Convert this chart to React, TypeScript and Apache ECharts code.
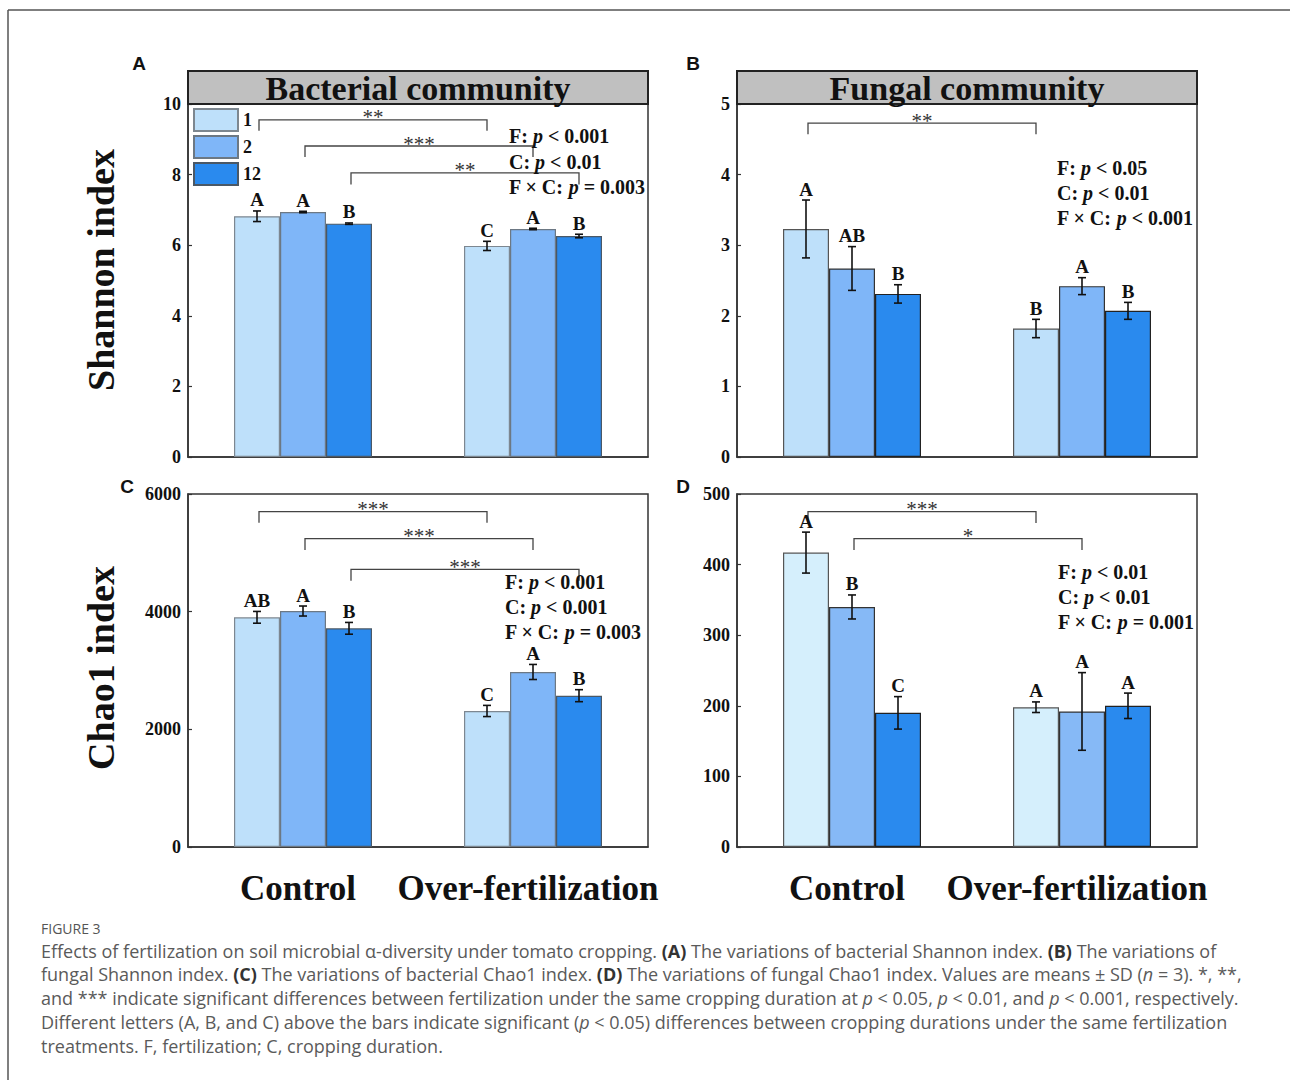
import React, { useEffect, useRef } from 'react';
import * as echarts from 'echarts';

// ---------- data ----------
const categories = ['Control', 'Over-fertilization'];
const durations = ['1', '2', '12'];

// Panel A: bacterial Shannon index
const bacShannonControl = [6.82, 6.94, 6.61];
const bacShannonOver = [5.98, 6.46, 6.26];
const bacShannonSdControl = [0.15, 0.02, 0.02];
const bacShannonSdOver = [0.13, 0.02, 0.05];
const bacShannonLettersControl = ['A', 'A', 'B'];
const bacShannonLettersOver = ['C', 'A', 'B'];
const bacShannonBrackets = [[0, 9.55, 9.24], [1, 8.81, 8.5], [2, 8.05, 7.72]];
const bacShannonStars = ['**', '***', '**'];
const bacShannonStats = [['F', '<', '0.001'], ['C', '<', '0.01'], ['F × C', '=', '0.003']];

// Panel B: fungal Shannon index
const funShannonControl = [3.23, 2.67, 2.31];
const funShannonOver = [1.82, 2.42, 2.07];
const funShannonSdControl = [0.41, 0.31, 0.13];
const funShannonSdOver = [0.13, 0.12, 0.12];
const funShannonLettersControl = ['A', 'AB', 'B'];
const funShannonLettersOver = ['B', 'A', 'B'];
const funShannonBrackets = [[0, 4.73, 4.57]];
const funShannonStars = ['**'];
const funShannonStats = [['F', '<', '0.05'], ['C', '<', '0.01'], ['F × C', '<', '0.001']];

// Panel C: bacterial Chao1 index
const bacChaoControl = [3904, 4011, 3717];
const bacChaoOver = [2312, 2975, 2572];
const bacChaoSdControl = [100, 85, 100];
const bacChaoSdOver = [95, 128, 102];
const bacChaoLettersControl = ['AB', 'A', 'B'];
const bacChaoLettersOver = ['C', 'A', 'B'];
const bacChaoBrackets = [[0, 5700, 5512], [1, 5241, 5048], [2, 4720, 4527]];
const bacChaoStars = ['***', '***', '***'];
const bacChaoStats = [['F', '<', '0.001'], ['C', '<', '0.001'], ['F × C', '=', '0.003']];

// Panel D: fungal Chao1 index
const funChaoControl = [417, 340, 190];
const funChaoOver = [198, 192, 200];
const funChaoSdControl = [29, 17, 23];
const funChaoSdOver = [7.5, 55, 18];
const funChaoLettersControl = ['A', 'B', 'C'];
const funChaoLettersOver = ['A', 'A', 'A'];
const funChaoBrackets = [[0, 475, 459], [1, 436.7, 420.7]];
const funChaoStars = ['***', '*'];
const funChaoStats = [['F', '<', '0.01'], ['C', '<', '0.01'], ['F × C', '=', '0.001']];

const yMax = [10, 5, 6000, 500];
const yInterval = [2, 1, 2000, 100];

// ---------- styles ----------
const SERIF = '"Liberation Serif", "Times New Roman", serif';
const SANS = '"Liberation Sans", Arial, sans-serif';
const CAP = '"Open Sans", "Noto Sans", sans-serif';
const colorsABC = ['#BEE0FA', '#7FB6F8', '#2A8AEE'];
const colorsD = ['#D5EFFC', '#86B9F6', '#2A8AEE'];
const borderABC = ['#7d8790', '#6c7884', '#4a5866'];
const borderD = ['#555', '#333', '#222'];

const grids = [
  { left: 188, top: 104, width: 460, height: 353 },
  { left: 737, top: 104, width: 460, height: 353 },
  { left: 188, top: 494, width: 460, height: 353 },
  { left: 737, top: 494, width: 460, height: 353 },
];

type Panel = {
  control: number[];
  over: number[];
  sdControl: number[];
  sdOver: number[];
  lettersControl: string[];
  lettersOver: string[];
  brackets: number[][];
  stars: string[];
  stats: string[][];
  statsPos: number[];
  colors: string[];
  borders: string[];
};

const panels: Panel[] = [
  {
    control: bacShannonControl, over: bacShannonOver, sdControl: bacShannonSdControl, sdOver: bacShannonSdOver,
    lettersControl: bacShannonLettersControl, lettersOver: bacShannonLettersOver,
    brackets: bacShannonBrackets, stars: bacShannonStars, stats: bacShannonStats, statsPos: [509, 136],
    colors: colorsABC, borders: borderABC,
  },
  {
    control: funShannonControl, over: funShannonOver, sdControl: funShannonSdControl, sdOver: funShannonSdOver,
    lettersControl: funShannonLettersControl, lettersOver: funShannonLettersOver,
    brackets: funShannonBrackets, stars: funShannonStars, stats: funShannonStats, statsPos: [1057, 168],
    colors: colorsABC, borders: borderD,
  },
  {
    control: bacChaoControl, over: bacChaoOver, sdControl: bacChaoSdControl, sdOver: bacChaoSdOver,
    lettersControl: bacChaoLettersControl, lettersOver: bacChaoLettersOver,
    brackets: bacChaoBrackets, stars: bacChaoStars, stats: bacChaoStats, statsPos: [505, 582],
    colors: colorsABC, borders: borderABC,
  },
  {
    control: funChaoControl, over: funChaoOver, sdControl: funChaoSdControl, sdOver: funChaoSdOver,
    lettersControl: funChaoLettersControl, lettersOver: funChaoLettersOver,
    brackets: funChaoBrackets, stars: funChaoStars, stats: funChaoStats, statsPos: [1058, 572],
    colors: colorsD, borders: borderD,
  },
];

function buildOption() {
  const xAxis: any[] = [];
  const yAxis: any[] = [];
  const series: any[] = [];
  const graphic: any[] = [];

  panels.forEach((p, gi) => {
    const showX = gi >= 2;
    xAxis.push({
      type: 'category',
      gridIndex: gi,
      data: categories,
      axisLine: { show: true, lineStyle: { color: '#333', width: 1.5 } },
      axisTick: { show: false },
      axisLabel: {
        show: showX,
        interval: 0,
        hideOverlap: false,
        margin: 24,
        padding: [0, 10, 0, 0],
        fontFamily: SERIF,
        fontWeight: 'bold',
        fontSize: 35,
        color: '#111',
      },
    });
    yAxis.push({
      type: 'value',
      gridIndex: gi,
      min: 0,
      max: yMax[gi],
      interval: yInterval[gi],
      splitLine: { show: false },
      axisLine: { show: true, lineStyle: { color: '#333', width: 1.5 } },
      axisTick: { show: true, inside: true, length: 4, lineStyle: { color: '#333', width: 1.2 } },
      axisLabel: {
        margin: 7,
        fontFamily: SERIF,
        fontWeight: 'bold',
        fontSize: 18,
        color: '#111',
        formatter: (v: number) => String(v),
      },
    });

    // bars
    durations.forEach((d, si) => {
      series.push({
        name: d,
        type: 'bar',
        xAxisIndex: gi,
        yAxisIndex: gi,
        barGap: '0%',
        barCategoryGap: '40%',
        data: [p.control[si], p.over[si]],
        itemStyle: { color: p.colors[si], borderColor: p.borders[si], borderWidth: 1.2 },
        emphasis: { disabled: true },
        z: 2,
      });
    });

    // error bars + letters
    const errData: number[][] = [];
    const letters: string[] = [];
    [0, 1].forEach((cat) => {
      durations.forEach((_, si) => {
        const mean = cat === 0 ? p.control[si] : p.over[si];
        const sd = cat === 0 ? p.sdControl[si] : p.sdOver[si];
        errData.push([cat, si, mean, sd]);
        letters.push(cat === 0 ? p.lettersControl[si] : p.lettersOver[si]);
      });
    });
    series.push({
      type: 'custom',
      xAxisIndex: gi,
      yAxisIndex: gi,
      data: errData,
      encode: { x: 0, y: 2 },
      z: 5,
      silent: true,
      renderItem: (params: any, api: any) => {
        const cat = api.value(0);
        const sub = api.value(1);
        const mean = api.value(2);
        const sd = api.value(3);
        const band = api.size([1, 0])[0];
        const c = api.coord([cat, mean]);
        const x = c[0] + (sub - 1) * 0.2 * band;
        const top = api.coord([cat, mean + sd])[1];
        const bot = api.coord([cat, mean - sd])[1];
        const cap = 4;
        const ls = { stroke: '#111', lineWidth: 1.6 };
        return {
          type: 'group',
          children: [
            { type: 'line', shape: { x1: x, y1: top, x2: x, y2: bot }, style: ls },
            { type: 'line', shape: { x1: x - cap, y1: top, x2: x + cap, y2: top }, style: ls },
            { type: 'line', shape: { x1: x - cap, y1: bot, x2: x + cap, y2: bot }, style: ls },
            {
              type: 'text',
              x: x,
              y: top - 11,
              style: {
                text: letters[params.dataIndex],
                align: 'center',
                verticalAlign: 'middle',
                font: `bold 19px ${SERIF}`,
                fill: '#111',
              },
            },
          ],
        };
      },
    });

    // significance brackets
    series.push({
      type: 'custom',
      xAxisIndex: gi,
      yAxisIndex: gi,
      data: p.brackets,
      encode: { y: 1 },
      z: 4,
      silent: true,
      renderItem: (params: any, api: any) => {
        const sub = api.value(0);
        const yl = api.value(1);
        const yd = api.value(2);
        const band = api.size([1, 0])[0];
        const off = (sub - 1) * 0.2 * band;
        const a = api.coord([0, yl]);
        const b = api.coord([1, yl]);
        const dy = api.coord([0, yd])[1];
        const x1 = a[0] + off + 2;
        const x2 = b[0] + off;
        return {
          type: 'group',
          children: [
            {
              type: 'polyline',
              shape: { points: [[x1, dy], [x1, a[1]], [x2, a[1]], [x2, dy]] },
              style: { stroke: '#444', lineWidth: 1.3, fill: 'none' },
            },
            {
              type: 'text',
              x: (x1 + x2) / 2,
              y: a[1] + 8,
              style: {
                text: p.stars[params.dataIndex],
                align: 'center',
                verticalAlign: 'bottom',
                font: `21px ${SERIF}`,
                fill: '#333',
              },
            },
          ],
        };
      },
    });

    // ANOVA stats text
    const lineGaps = gi === 0 ? [0, 26, 51] : [0, 25, 50];
    p.stats.forEach((s, k) => {
      graphic.push({
        type: 'text',
        x: p.statsPos[0],
        y: p.statsPos[1] + lineGaps[k],
        z: 50,
        style: {
          text: `{b|${s[0]}: }{i|p}{b| ${s[1]} ${s[2]}}`,
          verticalAlign: 'middle',
          rich: {
            b: { fontFamily: SERIF, fontWeight: 'bold', fontSize: 20, fill: '#111', color: '#111' },
            i: { fontFamily: SERIF, fontWeight: 'bold', fontStyle: 'italic', fontSize: 20, fill: '#111', color: '#111' },
          },
        },
      });
    });
  });

  // headers
  const headers = [
    { x: 188, text: 'Bacterial community' },
    { x: 737, text: 'Fungal community' },
  ];
  headers.forEach((h) => {
    graphic.push({
      type: 'rect',
      shape: { x: h.x, y: 71, width: 460, height: 33 },
      style: { fill: '#c0c0c0', stroke: '#222', lineWidth: 2 },
      z: 10,
    });
    graphic.push({
      type: 'text',
      x: h.x + 230,
      y: 88,
      z: 11,
      style: { text: h.text, align: 'center', verticalAlign: 'middle', font: `bold 34px ${SERIF}`, fill: '#111' },
    });
  });

  // y-axis titles
  graphic.push({
    type: 'text', x: 101, y: 270, rotation: Math.PI / 2, z: 11,
    style: { text: 'Shannon index', align: 'center', verticalAlign: 'middle', font: `bold 38px ${SERIF}`, fill: '#111' },
  });
  graphic.push({
    type: 'text', x: 101, y: 668, rotation: Math.PI / 2, z: 11,
    style: { text: 'Chao1 index', align: 'center', verticalAlign: 'middle', font: `bold 38px ${SERIF}`, fill: '#111' },
  });

  // panel letters
  [['A', 139, 63], ['B', 693, 63], ['C', 127, 486], ['D', 683, 486]].forEach((l: any) => {
    graphic.push({
      type: 'text', x: l[1], y: l[2], z: 11,
      style: { text: l[0], align: 'center', verticalAlign: 'middle', font: `bold 19px ${SANS}`, fill: '#111' },
    });
  });

  // frame
  graphic.push({ type: 'line', shape: { x1: 8, y1: 10, x2: 1290, y2: 10 }, style: { stroke: '#555', lineWidth: 1.5 } });
  graphic.push({ type: 'line', shape: { x1: 8, y1: 10, x2: 8, y2: 1080 }, style: { stroke: '#555', lineWidth: 1.5 } });

  // caption
  graphic.push({
    type: 'text', x: 41, y: 928,
    style: { text: 'FIGURE 3', verticalAlign: 'middle', font: `14px ${CAP}`, fill: '#555' },
  });
  const capLines = [
    '{n|Effects of fertilization on soil microbial α-diversity under tomato cropping. }{b|(A)}{n| The variations of bacterial Shannon index. }{b|(B)}{n| The variations of}',
    '{n|fungal Shannon index. }{b|(C)}{n| The variations of bacterial Chao1 index. }{b|(D)}{n| The variations of fungal Chao1 index. Values are means ± SD (}{i|n}{n| = 3). *, **,}',
    '{n|and *** indicate significant differences between fertilization under the same cropping duration at }{i|p}{n| < 0.05, }{i|p}{n| < 0.01, and }{i|p}{n| < 0.001, respectively.}',
    '{n|Different letters (A, B, and C) above the bars indicate significant (}{i|p}{n| < 0.05) differences between cropping durations under the same fertilization}',
    '{n|treatments. F, fertilization; C, cropping duration.}',
  ];
  const capY = [951, 974, 998, 1022, 1046];
  const capSize = 18;
  capLines.forEach((t, k) => {
    graphic.push({
      type: 'text', x: 41, y: capY[k],
      style: {
        text: t,
        verticalAlign: 'middle',
        rich: {
          n: { fontFamily: CAP, fontSize: capSize, fill: '#5a5a5a', color: '#5a5a5a' },
          b: { fontFamily: CAP, fontSize: capSize, fontWeight: 'bold', fill: '#333', color: '#333' },
          i: { fontFamily: CAP, fontSize: capSize, fontStyle: 'italic', fill: '#5a5a5a', color: '#5a5a5a' },
        },
      },
    });
  });

  return {
    animation: false,
    backgroundColor: '#ffffff',
    grid: grids.map((g) => ({ ...g, show: true, borderColor: '#333', borderWidth: 1.5, backgroundColor: 'transparent', containLabel: false })),
    legend: {
      data: durations,
      orient: 'vertical',
      left: 193,
      top: 108,
      padding: 0,
      itemWidth: 44,
      itemHeight: 22,
      itemGap: 3,
      icon: 'rect',
      selectedMode: false,
      textStyle: { fontFamily: SERIF, fontWeight: 'bold', fontSize: 18, color: '#111', lineHeight: 22 },
    },
    xAxis,
    yAxis,
    series,
    graphic,
  };
}

export default function App() {
  const ref = useRef<HTMLDivElement>(null);
  useEffect(() => {
    if (!ref.current) return;
    const chart = echarts.init(ref.current, undefined, { renderer: 'svg' });
    chart.setOption(buildOption() as any);
    return () => chart.dispose();
  }, []);
  return (
    <div
      ref={ref}
      style={{ position: 'absolute', left: 0, top: 0, width: 1290, height: 1080, background: '#fff' }}
    />
  );
}
